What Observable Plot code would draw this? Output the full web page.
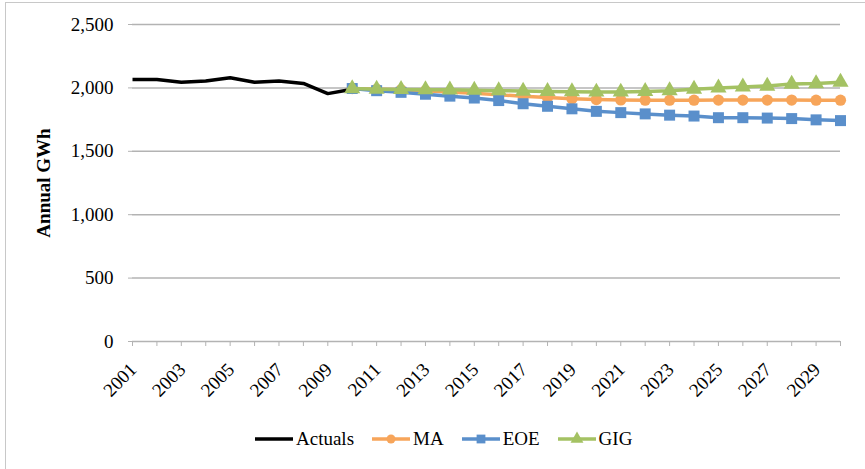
<!DOCTYPE html>
<html><head><meta charset="utf-8">
<script src="https://cdn.jsdelivr.net/npm/d3@7"></script>
<script src="https://cdn.jsdelivr.net/npm/@observablehq/plot@0.6"></script>
<style>
body{margin:0;background:#fff;}
#wrap{position:relative;width:865px;height:469px;overflow:hidden;font-family:"Liberation Serif",serif;background:#fff}
#frame{position:absolute;left:5px;top:2px;width:900px;height:500px;border:1.5px solid #c8c8c8;box-sizing:border-box}
#chart{position:absolute;left:0;top:0}
#ytitle{position:absolute;left:44px;top:183px;transform:translate(-50%,-50%) rotate(-90deg);font-weight:bold;font-size:19px;white-space:nowrap}
#legend{position:absolute;left:255px;top:428px;display:flex;align-items:center;font-size:19px;white-space:nowrap}
#legend .item{display:flex;align-items:center;margin-right:18px}
#legend svg{margin-right:3px}
</style></head><body>
<div id="wrap"><div id="frame"></div><div id="chart"></div><div id="ytitle">Annual GWh</div><div id="legend"></div></div>
<script>
// ---- data ----
const actualYears = [2001, 2002, 2003, 2004, 2005, 2006, 2007, 2008, 2009, 2010];
const actuals = [2066, 2066, 2045, 2055, 2080, 2045, 2055, 2035, 1955, 1990];
const projYears = [2010, 2011, 2012, 2013, 2014, 2015, 2016, 2017, 2018, 2019, 2020,
                   2021, 2022, 2023, 2024, 2025, 2026, 2027, 2028, 2029, 2030];
const ma  = [1995, 1990, 1985, 1978, 1968, 1957, 1945, 1935, 1925, 1915, 1908,
             1905, 1903, 1903, 1903, 1904, 1904, 1904, 1904, 1903, 1903];
const eoe = [1995, 1978, 1965, 1950, 1935, 1920, 1900, 1875, 1855, 1835, 1815,
             1805, 1795, 1785, 1778, 1765, 1765, 1762, 1758, 1748, 1742];
const gig = [1995, 1990, 1988, 1986, 1985, 1982, 1978, 1975, 1972, 1970, 1968,
             1968, 1972, 1978, 1990, 2000, 2008, 2015, 2030, 2035, 2045];
const seriesNames = ["Actuals", "MA", "EOE", "GIG"];
const seriesColors = ["#000000", "#F7A55A", "#5A8FCB", "#A4C263"];
const seriesSymbols = [null, "circle", "square", "triangle"];
const allYears = [2001, 2002, 2003, 2004, 2005, 2006, 2007, 2008, 2009, 2010,
                  2011, 2012, 2013, 2014, 2015, 2016, 2017, 2018, 2019, 2020,
                  2021, 2022, 2023, 2024, 2025, 2026, 2027, 2028, 2029, 2030];
const xLabelYears = [2001, 2003, 2005, 2007, 2009, 2011, 2013, 2015, 2017, 2019,
                     2021, 2023, 2025, 2027, 2029];
const yTicks = [0, 500, 1000, 1500, 2000, 2500];

// ---- build tables ----
const seriesData = [
  actualYears.map((year, i) => ({year, value: actuals[i]})),
  projYears.map((year, i) => ({year, value: ma[i]})),
  projYears.map((year, i) => ({year, value: eoe[i]})),
  projYears.map((year, i) => ({year, value: gig[i]}))
];
const symR = {circle: 5.6, square: 6.2, triangle: 6.0};

const marks = [
  Plot.ruleY(yTicks, {stroke: "#b3b3b3", strokeWidth: 1.5}),
  Plot.axisY({ticks: yTicks, tickFormat: d3.format(","), tickSize: 4, tickPadding: 15,
              stroke: "#b3b3b3", label: null, fontSize: 19}),
  Plot.axisX({ticks: allYears, text: null, tickSize: 5, stroke: "#b3b3b3", label: null}),
  Plot.text(xLabelYears, {x: d => d, y: 0, text: d => String(d), rotate: -45,
                          textAnchor: "end", lineAnchor: "middle", dy: 25, dx: 1,
                          fontSize: 19, fill: "#000"})
];
seriesData.forEach((data, k) => {
  marks.push(Plot.line(data, {x: "year", y: "value", stroke: seriesColors[k], strokeWidth: 3.5,
                              strokeLinejoin: "round", strokeLinecap: "butt"}));
  if (seriesSymbols[k]) {
    marks.push(Plot.dot(data, {x: "year", y: "value", symbol: () => seriesSymbols[k],
                               r: symR[seriesSymbols[k]], fill: seriesColors[k], stroke: "none"}));
  }
});

const chart = Plot.plot({
  width: 865, height: 410,
  marginLeft: 132, marginRight: 25, marginTop: 24, marginBottom: 69,
  style: {fontFamily: "'Liberation Serif', serif", fontSize: "19px", color: "#000",
          background: "transparent", overflow: "visible"},
  x: {domain: [2001, 2030], axis: null},
  y: {domain: [0, 2500]},
  symbol: {type: "identity"},
  marks
});
document.getElementById("chart").appendChild(chart);

// ---- legend ----
const legend = d3.select("#legend");
seriesNames.forEach((name, k) => {
  const item = legend.append("div").attr("class", "item");
  const svg = item.append("svg").attr("width", 38).attr("height", 16);
  svg.append("line").attr("x1", 0).attr("x2", 38).attr("y1", 8).attr("y2", 8)
     .attr("stroke", seriesColors[k]).attr("stroke-width", 3.5);
  if (seriesSymbols[k]) {
    const t = {circle: d3.symbolCircle, square: d3.symbolSquare, triangle: d3.symbolTriangle}[seriesSymbols[k]];
    const r = symR[seriesSymbols[k]] * 0.8;
    svg.append("path").attr("d", d3.symbol(t, Math.PI * r * r)())
       .attr("transform", "translate(19,8)").attr("fill", seriesColors[k]);
  }
  item.append("span").text(name);
});
</script>
</body></html>
